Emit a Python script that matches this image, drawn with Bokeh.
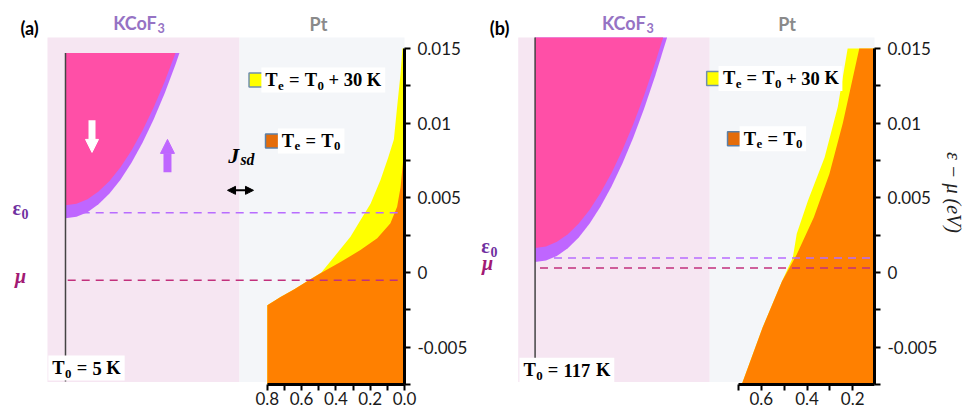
from bokeh.plotting import figure
from bokeh.layouts import row
from bokeh.models import Range1d, FixedTicker, Arrow, NormalHead, ColumnDataSource
from bokeh.core.properties import value
from bokeh.embed import file_html
from bokeh.resources import INLINE

# ---------------- data ----------------
E_range = (-0.0075, 0.01821)
y_major = [-0.005, 0.0, 0.005, 0.01, 0.015]
y_minor = [-0.0075, -0.0025, 0.0025, 0.0075, 0.0125]
y_labels = ["-0.005", "0", "0.005", "0.01", "0.015"]

a_x_major = [0.0, 0.2, 0.4, 0.6, 0.8]
a_x_minor = [0.1, 0.3, 0.5, 0.7]
a_x_labels = ["0.0", "0.2", "0.4", "0.6", "0.8"]
b_x_major = [0.2, 0.4, 0.6]
b_x_minor = [0.3, 0.5, 0.7]
b_x_labels = ["0.2", "0.4", "0.6"]

# Pt occupation, panel (a): energy (eV) vs occupation
a_orange_E = [-0.0075, -0.0022, -0.00164, -0.00114, -0.00052, 0.0, 0.0007, 0.0015,
              0.0023, 0.0033, 0.0044, 0.0057, 0.0075, 0.0089, 0.015]
a_orange_x = [0.8, 0.8, 0.723, 0.645, 0.558, 0.482, 0.373, 0.257,
              0.159, 0.082, 0.043, 0.023, 0.008, 0.0, 0.0]
a_yellow_E = [-0.0075, -0.0022, -0.00164, -0.00114, -0.00052, 0.0, 0.0013, 0.0024,
              0.0035, 0.0046, 0.0062, 0.0077, 0.0089, 0.0111, 0.0133, 0.015]
a_yellow_x = [0.8, 0.8, 0.723, 0.645, 0.558, 0.485, 0.392, 0.315,
              0.257, 0.198, 0.14, 0.095, 0.062, 0.043, 0.023, 0.012]

# Pt occupation, panel (b)
b_orange_E = [-0.0075, -0.0037, -0.0006, 0.0012, 0.0037, 0.0066, 0.0100, 0.0150]
b_orange_x = [0.686, 0.595, 0.510, 0.445, 0.370, 0.302, 0.243, 0.171]
b_yellow_E = [-0.0075, -0.0037, -0.0006, 0.0010, 0.0026, 0.0048, 0.0077, 0.0111, 0.0150]
b_yellow_x = [0.686, 0.595, 0.510, 0.462, 0.445, 0.396, 0.323, 0.265, 0.222]

# KCoF3 magnon bands (schematic, momentum k vs energy)
a_dn_k = [0.0, 0.1, 0.2, 0.3, 0.4, 0.5, 0.6, 0.7, 0.8, 0.9, 1.0]
a_dn_E = [0.0045, 0.0046, 0.00491, 0.00542, 0.00613, 0.00705, 0.00817, 0.0095, 0.01103, 0.01276, 0.0147]
a_up_k = [0.0, 0.1, 0.2, 0.3, 0.4, 0.5, 0.6, 0.7, 0.8, 0.9, 1.0, 1.036]
a_up_E = [0.00363, 0.00373, 0.00404, 0.00456, 0.00528, 0.00621, 0.00734, 0.00868, 0.01022, 0.01197, 0.01393, 0.0147]
a_band_top = 0.0147

b_dn_k = [0.0, 0.1, 0.2, 0.3, 0.4, 0.5, 0.6, 0.7, 0.8, 0.9, 1.0, 1.1, 1.173]
b_dn_E = [0.00164, 0.00174, 0.00205, 0.00256, 0.00328, 0.0042, 0.00533, 0.00666, 0.0082, 0.00994, 0.01189, 0.01404, 0.01574]
b_up_k = [0.0, 0.1, 0.2, 0.3, 0.4, 0.5, 0.6, 0.7, 0.8, 0.9, 1.0, 1.1, 1.209]
b_up_E = [0.0007, 0.0008, 0.00111, 0.00163, 0.00235, 0.00328, 0.00441, 0.00575, 0.00729, 0.00904, 0.0110, 0.01316, 0.01574]
b_band_top = 0.01574

a_eps0, a_mu = 0.0040, -0.00052
b_eps0, b_mu = 0.00097, 0.0003

# ---------------- styles ----------------
PINK_BG = "#f6e6f2"
GREY_BG = "#f4f6f9"
MAGENTA = "#ff4fa7"
PURPLE = "#bf66ff"
ORANGE = "#ff8000"
YELLOW = "#ffff00"
EPS_LINE = "#b86cff"
MU_LINE = "#c2307c"
EPS_TXT = "#7030a0"
MU_TXT = "#a21a74"
SERIF = value("Liberation Serif")
SANS = value("Lato")
PX_PER_K = 110.0

# approximate advance widths (em) used to place subscripts
W_SERIF = {'=': 0.57, '+': 0.57, 'K': 0.778, 'T': 0.667, 'e': 0.444,
           'J': 0.5, 's': 0.389, 'd': 0.5, 'ε': 0.44, '(': 0.333, ')': 0.333}
W_LATO = {'K': 0.66, 'C': 0.67, 'o': 0.58, 'F': 0.54}


def text_width(txt, size, table):
    return sum(table.get(c, 0.5) for c in txt) * size


def rich(p, x, y, pieces, size, color="black", font=SERIF, style="bold", table=W_SERIF,
         align="left", box=False, sub_scale=0.7, sub_drop=0.3):
    """pieces: (text, is_subscript, gap_before_in_em)"""
    items = []
    off = 0.0
    for t, s, g in pieces:
        fs = size * (sub_scale if s else 1)
        off += g * size
        items.append((t, s, fs, off))
        off += text_width(t, fs, table)
    total = off
    shift = 0.0 if align == "left" else -total / 2
    if box:
        cx = x + (shift + total / 2) / PX_PER_K
        p.rect(x=[cx], y=[y], width=total + 8, height=size * 1.35, width_units="screen",
               height_units="screen", fill_color="white", line_color=None, x_range_name="k")
    for t, s, fs, o in items:
        dy = size * sub_drop if s else 0.0
        p.text(x=[x], y=[y], text=[t], x_offset=o + shift, y_offset=dy, text_font=font,
               text_font_size=f"{fs:.1f}px", text_font_style=style, text_color=color,
               text_align="left", text_baseline="middle", x_range_name="k")


def style_axes(p, xbounds, xmaj, xmin, xlabels, ylabel):
    xa = p.xaxis[0]
    xa.bounds = xbounds
    xa.ticker = FixedTicker(ticks=xmaj, minor_ticks=xmin)
    xa.major_label_overrides = {t: l for t, l in zip(xmaj, xlabels)}
    ya = p.yaxis[0]
    ya.bounds = (-0.0075, 0.015)
    ya.ticker = FixedTicker(ticks=y_major, minor_ticks=y_minor)
    ya.major_label_overrides = {t: l for t, l in zip(y_major, y_labels)}
    for ax in (xa, ya):
        ax.axis_line_width = 3
        ax.axis_line_color = "black"
        ax.major_tick_line_width = 2
        ax.minor_tick_line_width = 2
        ax.major_tick_in = 0
        ax.minor_tick_in = 0
        ax.major_tick_out = 6
        ax.minor_tick_out = 6
        ax.major_label_text_font = "Lato"
        ax.major_label_text_font_size = "17px"
        ax.major_label_text_color = "#1a1a1a"
    xa.major_label_standoff = 1
    ya.major_label_standoff = 7
    if ylabel:
        ya.axis_label = ylabel
        ya.axis_label_text_font = "Liberation Serif"
        ya.axis_label_text_font_style = "italic"
        ya.axis_label_text_font_size = "20px"
        ya.axis_label_text_color = "#222222"
        ya.axis_label_standoff = 3


def make_panel(W, border_r, xr, kr, xbounds, xmaj, xmin, xlabels,
               oE, ox, yE, yx, dn_k, dn_E, up_k, up_E, band_top, eps0, mu,
               S, ylabel=None, tag="(a)", T0num="5", arrows=True):
    p = figure(width=W, height=411, x_range=Range1d(*xr), y_range=Range1d(*E_range),
               output_backend="svg", toolbar_location=None, y_axis_location="right",
               min_border_left=0, min_border_right=border_r, min_border_top=0,
               min_border_bottom=27)
    p.extra_x_ranges = {"k": Range1d(*kr)}
    p.outline_line_color = None
    p.xgrid.visible = False
    p.ygrid.visible = False
    p.background_fill_color = "white"
    p.border_fill_color = "white"
    style_axes(p, xbounds, xmaj, xmin, xlabels, ylabel)

    # backgrounds
    p.quad(left=[S["pink"][0]], right=[S["pink"][1]], bottom=[-0.00734], top=[0.01574],
           fill_color=PINK_BG, line_color=None, x_range_name="k")
    p.quad(left=[S["pink"][1]], right=[3.3], bottom=[-0.00734], top=[0.01574],
           fill_color=GREY_BG, line_color=None, x_range_name="k")

    # Pt occupations
    ys = ColumnDataSource(dict(y=yE, x1=yx, x2=[0.0] * len(yx)))
    p.harea(y="y", x1="x1", x2="x2", source=ys, fill_color=YELLOW)
    os_ = ColumnDataSource(dict(y=oE, x1=ox, x2=[0.0] * len(ox)))
    p.harea(y="y", x1="x1", x2="x2", source=os_, fill_color=ORANGE)

    # dashed levels
    p.segment(x0=[S["dash0"]], x1=[3.3], y0=[eps0], y1=[eps0], line_color=EPS_LINE,
              line_width=1.6, line_dash="8 6", x_range_name="k")
    p.segment(x0=[S["dash0"]], x1=[3.3], y0=[mu], y1=[mu], line_color=MU_LINE,
              line_width=1.6, line_dash="8 6", x_range_name="k")

    # magnon bands
    p.varea(x=up_k, y1=up_E, y2=[band_top] * len(up_k), fill_color=PURPLE, x_range_name="k")
    p.varea(x=dn_k, y1=dn_E, y2=[band_top] * len(dn_k), fill_color=MAGENTA, x_range_name="k")
    p.segment(x0=[0], x1=[0], y0=[band_top], y1=[-0.0073], line_color="#444444",
              line_width=1.5, x_range_name="k")

    if arrows:
        p.add_layout(Arrow(end=NormalHead(size=13, fill_color="white", line_color="white"),
                           x_start=0.241, y_start=0.0102, x_end=0.241, y_end=0.00804,
                           line_color="white", line_width=7, x_range_name="k"))
        p.add_layout(Arrow(end=NormalHead(size=14, fill_color=PURPLE, line_color=PURPLE),
                           x_start=0.927, y_start=0.00671, x_end=0.927, y_end=0.00891,
                           line_color=PURPLE, line_width=8, x_range_name="k"))
        p.add_layout(Arrow(start=NormalHead(size=8, fill_color="black", line_color="black"),
                           end=NormalHead(size=8, fill_color="black", line_color="black"),
                           x_start=1.473, y_start=0.0055, x_end=1.709, y_end=0.0055,
                           line_color="black", line_width=2, x_range_name="k"))
        rich(p, 1.48, 0.0078, [("J", False, 0), ("sd", True, 0.05)], 22, style="bold italic",
             sub_scale=0.72, sub_drop=0.18)

    # headings
    rich(p, S["tag"][0], S["tag"][1], [(tag, False, 0)], 18, font=SANS, align="center",
         table={'(': 0.3, ')': 0.3, 'a': 0.52, 'b': 0.57})
    rich(p, S["kcof"][0], S["kcof"][1], [("KCoF", False, 0), ("3", True, 0.02)], 18, font=SANS,
         color="#9673c4", align="center", table=W_LATO, sub_drop=0.3)
    rich(p, S["pt"][0], S["pt"][1], [("Pt", False, 0)], 18, font=SANS, color="#8a8a8a",
         align="center", table={'P': 0.62, 't': 0.38})
    # level labels
    rich(p, S["eps"][0], S["eps"][1], [("ε", False, 0), ("0", True, 0.02)], 20, color=EPS_TXT,
         align="center")
    rich(p, S["mu"][0], S["mu"][1], [("μ", False, 0)], 20, color=MU_TXT, style="bold italic",
         align="center", table={'μ': 0.56})
    # T0 label
    rich(p, S["t0"][0], S["t0"][1],
         [("T", False, 0), ("0", True, 0.02), ("=", False, 0.28), (T0num, False, 0.28),
          ("K", False, 0.25)], 18.5, align="center", box=True)
    # legend
    p.scatter(x=[S["leg1"][0]], y=[S["leg1"][1]], marker="square", size=14,
              fill_color=YELLOW, line_color="#6f8fae", line_width=1.5, x_range_name="k")
    p.scatter(x=[S["leg2"][0]], y=[S["leg2"][1]], marker="square", size=14,
              fill_color="#e46c0a", line_color="#5b7fa6", line_width=1.5, x_range_name="k")
    rich(p, S["leg1"][0] + 0.085, S["leg1"][1],
         [("T", False, 0), ("e", True, 0.02), ("=", False, 0.28), ("T", False, 0.28),
          ("0", True, 0.02), ("+", False, 0.25), ("30", False, 0.25), ("K", False, 0.25)],
         18.5, box=True)
    rich(p, S["leg2"][0] + 0.085, S["leg2"][1],
         [("T", False, 0), ("e", True, 0.02), ("=", False, 0.28), ("T", False, 0.28),
          ("0", True, 0.02)], 18.5, box=True)
    return p


Sa = dict(pink=(-0.1636, 1.582), dash0=0.02, tag=(-0.318, 0.0164), kcof=(0.664, 0.01673),
          pt=(2.3, 0.01667), eps=(-0.409, 0.0043), mu=(-0.409, -0.00025), t0=(0.191, -0.0064),
          leg1=(1.732, 0.01289), leg2=(1.882, 0.00881))
Sb = dict(pink=(-0.1545, 1.6), dash0=0.045, tag=(-0.318, 0.0164), kcof=(0.845, 0.01673),
          pt=(2.309, 0.01667), eps=(-0.418, 0.0018), mu=(-0.436, 0.00064), t0=(0.291, -0.00654),
          leg1=(1.636, 0.01299), leg2=(1.827, 0.00896))

pa = make_panel(480, 76, (2.3557, 0.0), (-0.5909, 3.0818), (0.0, 0.8),
                a_x_major, a_x_minor, a_x_labels,
                a_orange_E, a_orange_x, a_yellow_E, a_yellow_x,
                a_dn_k, a_dn_E, a_up_k, a_up_E, a_band_top, a_eps0, a_mu,
                Sa, ylabel=None, tag="(a)", T0num="5", arrows=True)
pb = make_panel(488, 91, (1.8304, 0.1043), (-0.5, 3.1091), (0.1043, 0.7),
                b_x_major, b_x_minor, b_x_labels,
                b_orange_E, b_orange_x, b_yellow_E, b_yellow_x,
                b_dn_k, b_dn_E, b_up_k, b_up_E, b_band_top, b_eps0, b_mu,
                Sb, ylabel="ε − μ (eV)", tag="(b)", T0num="117", arrows=False)

layout = row(pa, pb, spacing=0)
open("out.html", "w").write(file_html(layout, INLINE))
